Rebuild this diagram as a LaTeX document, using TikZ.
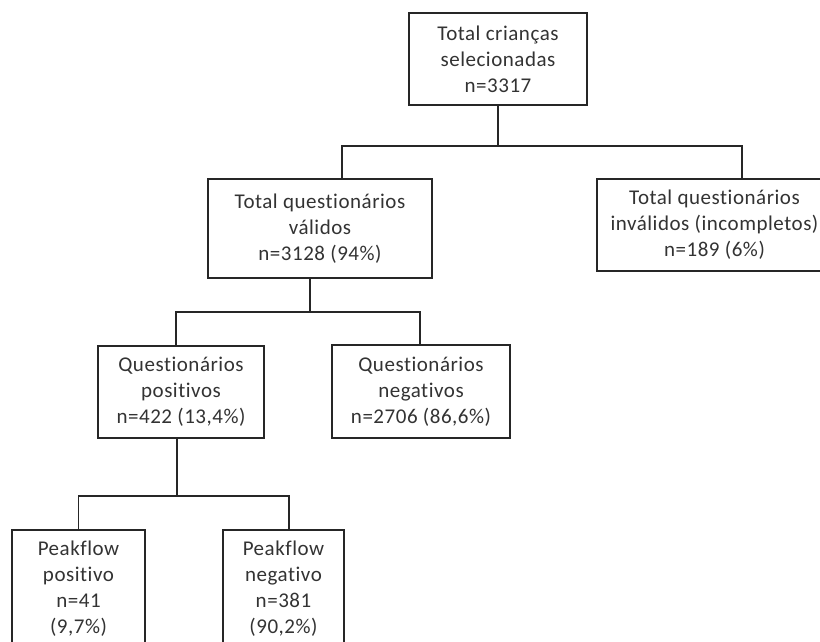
\documentclass[tikz,border=0pt]{standalone}
\usepackage{fontspec}
\setmainfont{Carlito}[Ligatures={NoCommon},LetterSpace=2.5]
\begin{document}
\begin{tikzpicture}[x=1pt,y=-1pt,
  box/.style={draw=black!85,line width=1.6pt,rectangle,align=center,inner sep=0pt,
    text=black!80,font=\fontsize{21}{26}\selectfont},
  link/.style={draw=black!85,line width=1.6pt}]
\useasboundingbox (0,0) rectangle (820,641);
\fill[white] (0,0) rectangle (820,641);
\clip (0,0) rectangle (820,641);
\node[box,minimum width=178,minimum height=92] (top) at (498,59)
  {Total crianças\\selecionadas\\n=3317};
\node[box,minimum width=224,minimum height=99] (valid) at (320,228.5)
  {Total questionários\\válidos\\n=3128 (94\%)};
\node[box,minimum width=235,minimum height=92] (invalid) at (714.5,225)
  {Total questionários\\inválidos (incompletos)\\n=189 (6\%)};
\node[box,minimum width=166,minimum height=92] (pos) at (181,392)
  {Questionários\\positivos\\n=422 (13,4\%)};
\node[box,minimum width=178,minimum height=93] (neg) at (421,391.5)
  {Questionários\\negativos\\n=2706 (86,6\%)};
\node[box,minimum width=133,minimum height=118] (pfpos) at (78.5,589)
  {Peakflow\\positivo\\n=41\\(9,7\%)};
\node[box,minimum width=121,minimum height=118] (pfneg) at (283.5,589)
  {Peakflow\\negativo\\n=381\\(90,2\%)};
\coordinate (b1) at (498,146);
\coordinate (b2) at (310,312);
\coordinate (b3) at (177,496);
\draw[link] (top.south) -- (b1);
\draw[link] ([xshift=22pt]valid.north) |- (b1) -| ([xshift=27.5pt]invalid.north);
\draw[link] ([xshift=-10pt]valid.south) -- (b2);
\draw[link] ([xshift=-5pt]pos.north) |- (b2) -| ([xshift=-1pt]neg.north);
\draw[link] ([xshift=-4pt]pos.south) -- (b3);
\draw[link] (pfpos.north) |- (b3) -| ([xshift=5.5pt]pfneg.north);
\end{tikzpicture}
\end{document}
